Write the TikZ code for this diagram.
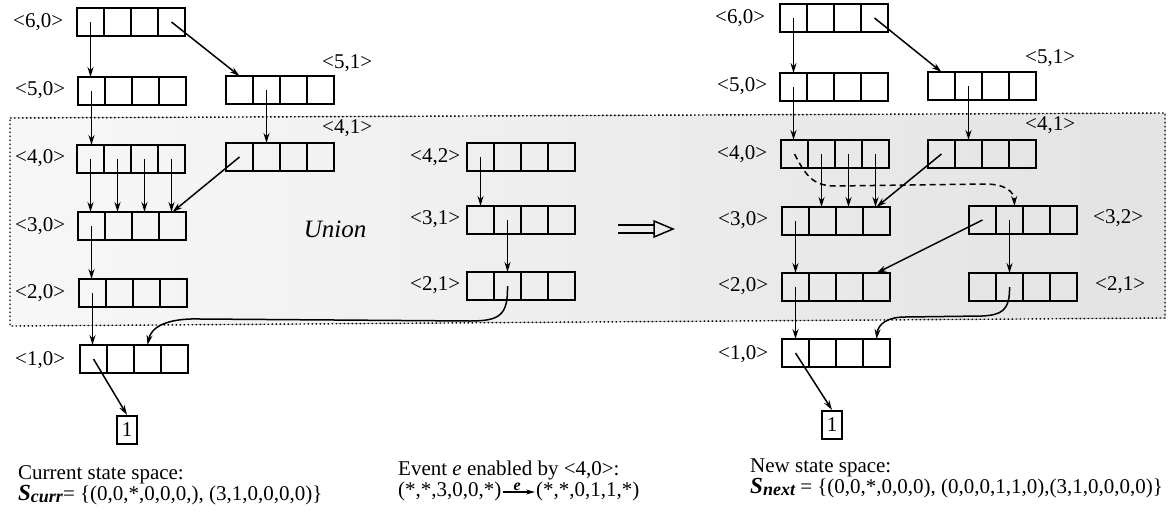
\documentclass[tikz,border=0pt]{standalone}
\usepackage{fontspec}
\setmainfont{Liberation Serif}
\usetikzlibrary{arrows.meta,calc}

% one MDD node: a row of four cells named <name>-1 ... <name>-4
\newcommand{\cellrow}[3]{%
  \foreach \k in {1,...,4}{%
    \node[cellbox, anchor=north west] (#1-\k) at ({#2+27*(\k-1)},#3) {};
  }%
}
% bold italic S with a subscript
\newcommand{\sname}[1]{{\fontsize{23}{23}\selectfont\bfseries\itshape S}\raisebox{-0.3ex}{\fontsize{18}{18}\selectfont\bfseries\itshape #1}}

\begin{document}
\begin{tikzpicture}[x=1pt,y=-1pt,
  cellbox/.style={draw, line width=2.1pt, minimum width=27pt, minimum height=28pt, inner sep=0pt, outer sep=0pt},
  onebox/.style={draw, line width=2.1pt, minimum width=20pt, minimum height=28pt, inner sep=0pt, font=\fontsize{21}{21}\selectfont},
  arr/.style={-{Stealth[length=10pt,width=6pt]}, line width=1.5pt},
  dasharr/.style={arr, dash pattern=on 6pt off 4pt},
  lbl/.style={inner sep=0pt, font=\fontsize{21}{21}\selectfont},
  txt/.style={inner sep=0pt, font=\fontsize{21}{21}\selectfont},
]
\useasboundingbox (0,0) rectangle (1174,520);

% union region
\fill[left color=black!3, right color=black!11] (10,118) -- (1165,113) -- (1165,318) -- (10,326) -- cycle;
\draw[line width=1.4pt, dash pattern=on 1.5pt off 2.5pt] (10,118) -- (1165,113) -- (1165,318) -- (10,326) -- cycle;

% ---------- current state space ----------
\cellrow{L60}{77}{8}
\cellrow{L50}{78}{77}
\cellrow{L51}{226}{76}
\cellrow{L40}{77}{145}
\cellrow{L41}{226}{143}
\cellrow{L30}{78}{212}
\cellrow{L20}{79}{279}
\cellrow{L10}{80}{345}
\node[onebox] (Lone) at (127,430) {1};

\node[lbl, anchor=west] (tL60) at (13,22) {<6,0>};
\node[lbl, anchor=west] (tL50) at (15,90) {<5,0>};
\node[lbl, anchor=west] (tL51) at (322,63) {<5,1>};
\node[lbl, anchor=west] (tL40) at (15,158) {<4,0>};
\node[lbl, anchor=west] (tL41) at (322,128) {<4,1>};
\node[lbl, anchor=west] (tL30) at (15,226) {<3,0>};
\node[lbl, anchor=west] (tL20) at (15,293) {<2,0>};
\node[lbl, anchor=west] (tL10) at (15,360) {<1,0>};

% ---------- event pattern ----------
\cellrow{E42}{467}{143}
\cellrow{E31}{467}{206}
\cellrow{E21}{467}{272}
\node[lbl, anchor=west] (tE42) at (410,157) {<4,2>};
\node[lbl, anchor=west] (tE31) at (410,219) {<3,1>};
\node[lbl, anchor=west] (tE21) at (410,285) {<2,1>};

\node[inner sep=0pt, font=\fontsize{25}{25}\selectfont\itshape] (union) at (335,229) {Union};

% ---------- next state space ----------
\cellrow{R60}{780}{4}
\cellrow{R50}{780}{73}
\cellrow{R51}{928}{72}
\cellrow{R40}{781}{140}
\cellrow{R41}{928}{140}
\cellrow{R30}{782}{207}
\cellrow{R32}{969}{206}
\cellrow{R20}{782}{273}
\cellrow{R21}{969}{273}
\cellrow{R10}{782}{339}
\node[onebox] (Rone) at (832,425) {1};

\node[lbl, anchor=west] (tR60) at (715,18) {<6,0>};
\node[lbl, anchor=west] (tR50) at (717,86) {<5,0>};
\node[lbl, anchor=west] (tR51) at (1025,58) {<5,1>};
\node[lbl, anchor=west] (tR40) at (717,154) {<4,0>};
\node[lbl, anchor=west] (tR41) at (1025,125) {<4,1>};
\node[lbl, anchor=west] (tR30) at (718,220) {<3,0>};
\node[lbl, anchor=west] (tR32) at (1093,218) {<3,2>};
\node[lbl, anchor=west] (tR20) at (718,286) {<2,0>};
\node[lbl, anchor=west] (tR21) at (1095,285) {<2,1>};
\node[lbl, anchor=west] (tR10) at (718,354) {<1,0>};

% ---------- edges: current ----------
\draw[arr] (L60-1.center) -- (L60-1.center |- L50-1.north);
\draw[arr] (L60-4.center) -- (L51-1.north);
\draw[arr] (L50-1.center) -- (L50-1.center |- L40-1.north);
\draw[arr] (L51-2.center) -- (L51-2.center |- L41-2.north);
\foreach \k in {1,...,4}{\draw[arr] (L40-\k.center) -- (L40-\k.center |- L30-\k.north);}
\draw[arr] (L41-1.center) -- (L30-4.north);
\draw[arr] (L30-1.center) -- (L30-1.center |- L20-1.north);
\draw[arr] (L20-1.center) -- (L20-1.center |- L10-1.north);
\draw[arr] (L10-1.center) -- (Lone.north);

% ---------- edges: event ----------
\draw[arr] (E42-1.center) -- (E42-1.center |- E31-1.north);
\draw[arr] (E31-2.center) -- (E31-2.center |- E21-2.north);
\draw[arr] (E21-2.center) .. controls (508,315) and (500,321) .. (470,321)
  -- (200,319) .. controls (165,318) and (151,328) .. (L10-3.north);

% ---------- edges: next ----------
\draw[arr] (R60-1.center) -- (R60-1.center |- R50-1.north);
\draw[arr] (R60-4.center) -- (R51-1.north);
\draw[arr] (R50-1.center) -- (R50-1.center |- R40-1.north);
\draw[arr] (R51-2.center) -- (R51-2.center |- R41-2.north);
\foreach \k in {2,...,4}{\draw[arr] (R40-\k.center) -- (R40-\k.center |- R30-\k.north);}
\draw[dasharr] (R40-1.center) .. controls (805,174) and (812,186) .. (835,186)
  -- (985,184) .. controls (1006,184) and (1014,192) .. ($(R32-2.north)+(5,0)$);
\draw[arr] (R41-1.center) -- (R30-4.north);
\draw[arr] (R30-1.center) -- (R30-1.center |- R20-1.north);
\draw[arr] (R32-1.center) -- (R20-4.north);
\draw[arr] (R32-2.center) -- (R32-2.center |- R21-2.north);
\draw[arr] (R20-1.center) -- (R20-1.center |- R10-1.north);
\draw[arr] (R21-2.center) .. controls (1010,311) and (1001,315) .. (982,316)
  -- (905,317) .. controls (886,317) and (878,325) .. (R10-4.north);
\draw[arr] (R10-1.center) -- (Rone.north);

% hollow double arrow
\draw[line width=1.5pt] (618,225) -- (654,225) (618,233) -- (654,233);
\draw[line width=1.5pt, line join=miter] (654,221) -- (673,229) -- (654,237) -- cycle;

% ---------- captions ----------
\node[txt, anchor=base west] (cur1) at (18,479) {Current state space:};
\node[txt, anchor=base west] (cur2) at (18,500) {\sname{curr}= \{(0,0,*,0,0,0,), (3,1,0,0,0,0)\}};
\node[txt, anchor=base west] (ev1) at (398,475) {Event \textit{e} enabled by <4,0>:};
\node[txt, anchor=base west] (ev2a) at (398,496) {(*,*,3,0,0,*)};
\node[txt, anchor=base west] (ev2b) at (536,496) {(*,*,0,1,1,*)};
\draw[-{Stealth[length=9pt,width=5pt]}, line width=1.1pt]
  ($(ev2a.east |- 0,492)+(1,0)$) -- node[pos=0.45, anchor=south, inner sep=1pt,
  font=\fontsize{16}{16}\selectfont\bfseries\itshape] (ev2e) {e} ($(ev2b.west |- 0,492)+(-1,0)$);
\node[txt, anchor=base west] (nw1) at (750,472) {New state space:};
\node[txt, anchor=base west] (nw2) at (750,493) {\sname{next} = \{(0,0,*,0,0,0), (0,0,0,1,1,0),(3,1,0,0,0,0)\}};
\end{tikzpicture}
\end{document}
